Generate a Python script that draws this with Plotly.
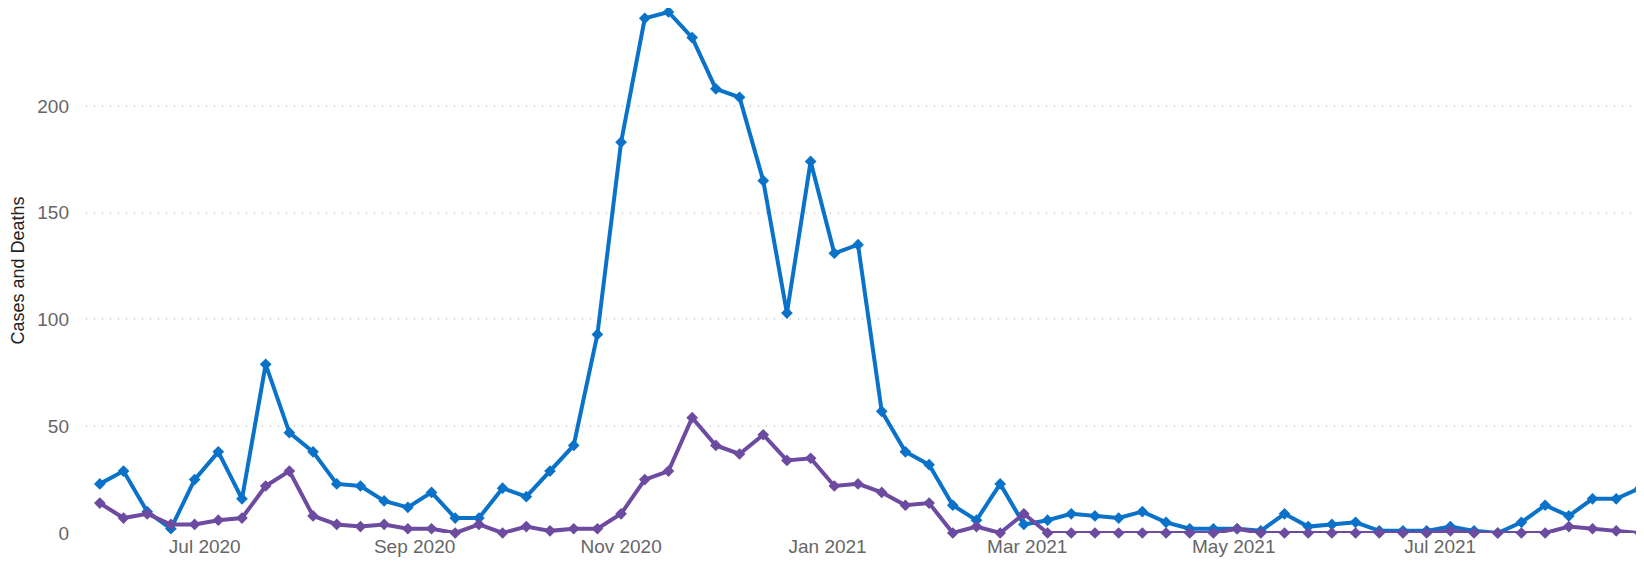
import pandas as pd
import plotly.graph_objects as go

# Weekly dates (week ending Sundays)
week_start = "2020-05-31"
n_weeks = 66
dates = pd.date_range(week_start, periods=n_weeks, freq="7D")

cases = [23, 29, 10, 2, 25, 38, 16, 79, 47, 38,
         23, 22, 15, 12, 19, 7, 7, 21, 17, 29,
         41, 93, 183, 241, 244, 232, 208, 204, 165, 103,
         174, 131, 135, 57, 38, 32, 13, 6, 23, 4,
         6, 9, 8, 7, 10, 5, 2, 2, 2, 1,
         9, 3, 4, 5, 1, 1, 1, 3, 1, 0,
         5, 13, 8, 16, 16, 21]

deaths = [14, 7, 9, 4, 4, 6, 7, 22, 29, 8,
          4, 3, 4, 2, 2, 0, 4, 0, 3, 1,
          2, 2, 9, 25, 29, 54, 41, 37, 46, 34,
          35, 22, 23, 19, 13, 14, 0, 3, 0, 9,
          0, 0, 0, 0, 0, 0, 0, 0, 2, 0,
          0, 0, 0, 0, 0, 0, 0, 1, 0, 0,
          0, 0, 3, 2, 1, 0]

series_names = ["Cases", "Deaths"]
series_colors = ["#0A72C8", "#6C4BA0"]
y_title = "Cases and Deaths"
y_ticks = [0, 50, 100, 150, 200]

fig = go.Figure()
for name, vals, col in zip(series_names, [cases, deaths], series_colors):
    fig.add_trace(go.Scatter(
        x=dates, y=vals, name=name, mode="lines+markers",
        line=dict(color=col, width=4),
        marker=dict(symbol="diamond", size=9, color=col),
        cliponaxis=False,
    ))

# page body has an 8px default margin, so the figure is sized/offset for it
fig.update_layout(
    width=1636, height=554,
    margin=dict(l=78, r=0, t=0, b=28.5, pad=0),
    paper_bgcolor="white", plot_bgcolor="white",
    showlegend=False,
    font=dict(family="Liberation Sans, Arial, sans-serif", size=19, color="#666666"),
)
fig.update_xaxes(
    range=["2020-05-26 22:00", "2021-08-30 05:00"],
    tick0="2020-07-01", dtick="M2", tickformat="%b %Y",
    showgrid=False, zeroline=False, showline=False,
    ticks="", ticklabelstandoff=0, automargin=False,
    tickfont=dict(size=19, color="#666666"),
)
fig.update_yaxes(
    range=[0, 245.85],
    tickvals=y_ticks,
    showgrid=True, gridcolor="#d0d0d0", griddash="1px,7px", gridwidth=1.5,
    zeroline=False, showline=False,
    ticks="", ticklabelstandoff=16, automargin=False,
    tickfont=dict(size=19, color="#666666"),
    title=dict(text=y_title, font=dict(size=18, color="#222222"), standoff=12),
)

fig.write_html("out.html")
